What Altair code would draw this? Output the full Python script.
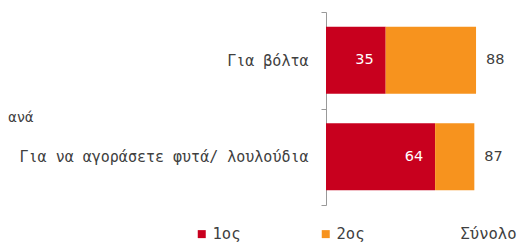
import altair as alt
import pandas as pd

categories = ["Για βόλτα", "Για να αγοράσετε φυτά/ λουλούδια"]
series_names = ["1ος", "2ος"]
first_vals = [35, 64]
second_vals = [53, 23]
totals = [88, 87]
total_label = "Σύνολο"
header_text = ["ανά"]

RED = "#C8001E"
ORANGE = "#F7931E"
LABEL_FONT = "DejaVu Sans Mono"
NUM_FONT = "DejaVu Sans"
TEXT_COLOR = "#404040"

rows = []
for c, a, b in zip(categories, first_vals, second_vals):
    rows.append({"cat": c, "series": series_names[0], "value": a, "ord": 0})
    rows.append({"cat": c, "series": series_names[1], "value": b, "ord": 1})
df = pd.DataFrame(rows)
df_first = pd.DataFrame({"cat": categories, "value": first_vals})
df_tot = pd.DataFrame({"cat": categories, "total": totals})
df_head = pd.DataFrame({"t": header_text})

yscale = alt.Scale(domain=categories, paddingInner=0, paddingOuter=0)
xscale = alt.Scale(domain=[0, 100])

bars = alt.Chart(df).mark_bar(height=67).encode(
    y=alt.Y("cat:N", scale=yscale, sort=categories, title=None,
            axis=alt.Axis(labelFont=LABEL_FONT, labelFontSize=15, labelColor=TEXT_COLOR,
                          labelPadding=13, tickBand="extent", tickSize=5,
                          tickColor="#999999", domainColor="#999999",
                          labelLimit=400)),
    x=alt.X("sum(value):Q", scale=xscale, stack="zero", axis=None),
    color=alt.Color("series:N",
                    scale=alt.Scale(domain=series_names + [total_label],
                                    range=[RED, ORANGE, "rgba(0,0,0,0)"]),
                    legend=alt.Legend(title=None, orient="none", direction="horizontal",
                                      legendX=-132, legendY=214,
                                      symbolType="square", symbolSize=64,
                                      symbolStrokeWidth=0, columnPadding=49,
                                      gridAlign="all",
                                      labelFont=LABEL_FONT, labelFontSize=15.5,
                                      labelColor=TEXT_COLOR, labelOffset=3)),
    order=alt.Order("ord:Q"),
)

inner = alt.Chart(df_first).mark_text(
    align="right", baseline="middle", dx=-12, color="white", font=NUM_FONT, fontSize=14.5
).encode(
    y=alt.Y("cat:N", scale=yscale, sort=categories),
    x=alt.X("value:Q", scale=xscale),
    text="value:Q",
)

tot = alt.Chart(df_tot).mark_text(
    align="left", baseline="middle", dx=10, color=TEXT_COLOR, font=NUM_FONT, fontSize=14.5
).encode(
    y=alt.Y("cat:N", scale=yscale, sort=categories),
    x=alt.X("total:Q", scale=xscale),
    text="total:Q",
)

head = alt.Chart(df_head).mark_text(
    align="right", baseline="middle", color=TEXT_COLOR, font=LABEL_FONT, fontSize=14
).encode(
    x=alt.value(-292.5), y=alt.value(106), text="t:N"
)

chart = alt.layer(bars, inner, tot, head).properties(
    width=170.5, height=193,
    autosize=alt.AutoSizeParams(type="none"),
    padding={"left": 318, "top": 4, "right": 22.5, "bottom": 39},
).configure_view(stroke=None)

chart.save("out.html", embed_options={"renderer": "svg", "actions": False})
